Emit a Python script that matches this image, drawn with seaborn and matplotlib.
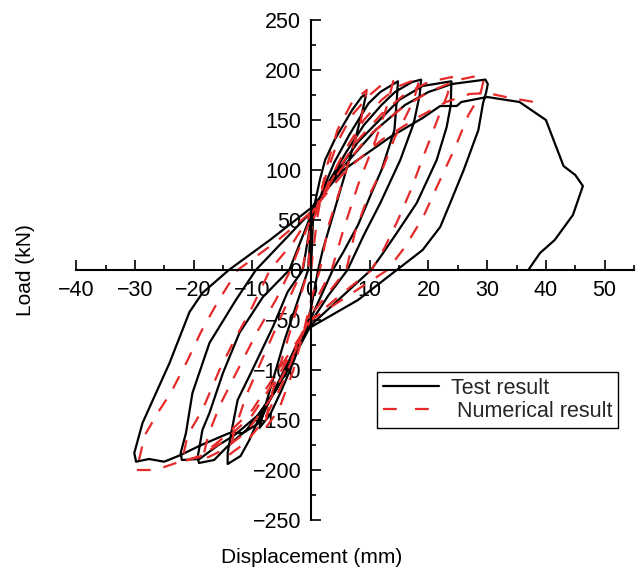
import matplotlib
matplotlib.use("Agg")
import matplotlib.pyplot as plt
from matplotlib.lines import Line2D
from matplotlib.ticker import MultipleLocator
import numpy as np
import pandas as pd
import seaborn as sns

# ---- hysteresis loops: displacement (mm) and load (kN), in loading order ----
# Test result, cycle by cycle
test_c1_disp = [0, 0.2, 0.4, 1.5, 2.4, 4, 5.5, 7, 8.6, 9.4,
                8.8, 7.5, 5.5, 3.5, 2, 1.2,
                0, -1, -3, -5, -7, -8.8,
                -8, -6.5, -4.5, -2.5, -0.5]
test_c1_load = [0, 30, 60, 90, 110, 130, 145, 160, 173, 176,
                160, 130, 90, 50, 20, 0,
                -38, -60, -92, -120, -145, -158,
                -140, -110, -70, -35, 0]

test_c2_disp = [0, 2, 4, 6.5, 9.8, 11.8, 14.6, 14.8,
                14.6, 14.2, 13.5, 12, 10.3, 8, 5.5, 3.7,
                0, -2, -4, -6.5, -9, -10.5, -12, -14.2, -14.2,
                -13.5, -12.5, -10, -6.5, -4, -1.4]
test_c2_load = [45, 80, 108, 135, 166.7, 178, 188, 188.7,
                170, 140, 127, 100, 77, 45, 18, 0,
                -48, -75, -100, -125, -150, -170, -186, -194, -183,
                -160, -130, -100, -57, -22, 0]

test_c3_disp = [0, 3, 6, 9, 12, 14.3, 17.2, 18.75,
                18.5, 17.5, 15.2, 11.8, 9, 6.2,
                3, 0, -3, -6, -9, -11, -13, -14.5, -16.5, -19.1, -19.3,
                -18.5, -17.3, -15, -12.2, -8.2, -3.7]
test_c3_load = [50, 88, 118, 145, 165, 178, 188, 190.4,
                175, 147, 110, 67, 35, 0,
                -25, -52, -88, -120, -145, -160, -170, -178, -190, -193, -187,
                -160, -143, -103, -63, -27, 0]

test_c4_disp = [0, 4, 8, 12, 15, 19, 23.9,
                23.8, 23.1, 21.4, 18, 14.6, 11.8, 10.2,
                5, 0, -3, -6, -9, -13, -16, -19, -22, -22.2,
                -21.3, -20.2, -17.3, -12.8, -9.4]
test_c4_load = [55, 95, 128, 152, 170, 184, 188.7,
                165, 143, 110, 67, 37, 13, 0,
                -28, -55, -88, -120, -145, -165, -176, -189, -190, -183,
                -163, -123, -73, -30, 0]

test_c5_disp = [0, 5, 11, 16, 20, 24, 29.7, 30.1,
                29.8, 29.3, 28.5, 26, 23.7, 22, 19, 14.6,
                8, 0, -1.4, -3.7, -6.5, -8.8, -11.6, -13.9, -18.7, -22.2, -25, -27.6, -29.8, -30.1,
                -28.7, -26.4, -24.1, -20.7, -18.5, -15, -14]
test_c5_load = [58, 100, 140, 165, 178, 186, 190.4, 186,
                177, 167, 140, 100, 67, 43, 20, 0,
                -30, -57, -62, -90, -123, -153, -163, -163, -175, -185, -191.7, -189, -191.7, -183,
                -153, -123, -93, -42, -23, -5, 0]

test_final_disp = [-7, 0, 5.5, 13.5, 19, 22, 24.8, 25.6, 30, 35.5,
                   40, 43, 45, 46.3, 44.6, 41.5, 39, 37]
test_final_load = [30, 62, 100, 133, 152, 164, 164, 168, 173, 168,
                   150, 104, 95, 84, 55, 30, 17, 0]

# Numerical result, cycle by cycle
num_c1_disp = [0, 1, 2.5, 4.5, 7, 9.5,
               8.5, 6, 3, 1.5,
               0, -1, -3, -5.5, -8,
               -7, -5, -2.5, -0.5]
num_c1_load = [0, 50, 100, 140, 168, 180,
               150, 100, 45, 0,
               -30, -55, -100, -140, -160,
               -130, -90, -40, 0]

num_c2_disp = [0, 2, 4.5, 7, 10, 12, 14,
               13, 11, 8, 5.5, 3.5,
               0, -2, -5, -8, -11, -14,
               -13, -11, -8, -5, -1.5]
num_c2_load = [40, 85, 128, 155, 175, 185, 189,
               165, 130, 85, 40, 0,
               -40, -72, -115, -150, -172, -185,
               -160, -125, -85, -45, 0]

num_c3_disp = [0, 3, 6, 9, 12, 15, 18.5,
               17.5, 16, 14.3, 12.3, 9.5, 7.5, 6,
               0, -3, -7, -11, -15, -18.5,
               -17.5, -15.5, -12.5, -9, -6, -3.5]
num_c3_load = [45, 88, 122, 150, 170, 184, 192,
               170, 152, 133, 103, 70, 38, 0,
               -45, -85, -130, -162, -180, -190,
               -165, -135, -100, -60, -30, 0]

num_c4_disp = [0, 4, 8, 12, 16, 20, 24,
               23.2, 21.7, 19.1, 17, 14.8, 12.5, 10.3,
               5, 0, -5, -10, -15, -19, -22,
               -21, -18.5, -15.6, -12.8, -10.5, -7]
num_c4_load = [52, 95, 130, 156, 176, 188, 193,
               175, 153, 113, 80, 50, 22, 0,
               -25, -50, -100, -145, -172, -186, -192,
               -165, -140, -100, -67, -43, 0]

num_c5_disp = [-3, 0, 5, 10, 15, 20, 25, 28.2, 29.5,
               28.8, 26.8, 24.5, 22.2, 19.1, 16, 13,
               6, 0, -5, -10, -15, -19, -22, -25, -27.3, -30,
               -29.3, -28.3, -25.8, -23.9, -21, -18.75, -15.9, -12.5]
num_c5_load = [28, 56, 100, 135, 160, 178, 190, 194, 192,
               175, 155, 122, 93, 53, 23, 0,
               -27, -50, -95, -140, -168, -187, -191, -197, -200, -200,
               -190, -165, -140, -123, -90, -62, -32, 0]

num_final_disp = [-6, 0, 6, 12, 18, 23, 27, 30, 34, 38]
num_final_load = [28, 58, 100, 130, 152, 168, 176, 177, 172, 168]

test_disp = (test_c1_disp + test_c2_disp + test_c3_disp + test_c4_disp
             + test_c5_disp + test_final_disp)
test_load = (test_c1_load + test_c2_load + test_c3_load + test_c4_load
             + test_c5_load + test_final_load)
num_disp = (num_c1_disp + num_c2_disp + num_c3_disp + num_c4_disp
            + num_c5_disp + num_final_disp)
num_load = (num_c1_load + num_c2_load + num_c3_load + num_c4_load
            + num_c5_load + num_final_load)

series_names = ["Test result", "Numerical result"]
x_ticks = list(range(-40, 51, 10))
y_ticks = list(range(-250, 251, 50))

df = pd.concat([
    pd.DataFrame({"Displacement": test_disp, "Load": test_load,
                  "Result": series_names[0]}),
    pd.DataFrame({"Displacement": num_disp, "Load": num_load,
                  "Result": series_names[1]}),
], ignore_index=True)

sns.set_theme(style="white")
plt.rcParams["font.family"] = ["Liberation Sans", "DejaVu Sans"]

RED = "#e62a2a"
DASH = (6.2, 5.8)
LW = 1.6

fig = plt.figure(figsize=(6.4, 5.73), dpi=100)
ax = fig.add_axes([0.119, 0.0925, 0.8716, 0.8726])

sns.lineplot(data=df, x="Displacement", y="Load", hue="Result", style="Result",
             hue_order=series_names, style_order=series_names,
             units="Result", estimator=None, sort=False,
             palette={series_names[0]: "black", series_names[1]: RED},
             dashes={series_names[0]: "", series_names[1]: DASH},
             linewidth=LW, legend=False, ax=ax)

ax.set_xlim(-40, 55)
ax.set_ylim(-250, 250)

# axes crossing at the origin
for side in ("top", "right"):
    ax.spines[side].set_visible(False)
for side in ("left", "bottom"):
    ax.spines[side].set_position(("data", 0))
    ax.spines[side].set_color("black")
    ax.spines[side].set_linewidth(1.5)

ax.set_xticks(x_ticks)
ax.set_yticks(y_ticks)
ax.xaxis.set_minor_locator(MultipleLocator(5))
ax.yaxis.set_minor_locator(MultipleLocator(25))
ax.tick_params(which="both", direction="in", color="black", width=1.2,
               labelsize=15.5, labelcolor="black", pad=7,
               bottom=True, left=True)
ax.tick_params(which="major", length=7)
ax.tick_params(which="minor", length=3.5)

ax.set_xlabel("Displacement (mm)", fontsize=15, color="black")
ax.set_ylabel("Load (kN)", fontsize=15, color="black")
ax.xaxis.set_label_coords(0.423, -0.056)
ax.yaxis.label.set_va("center")
ax.yaxis.set_label_coords(-0.0914, 0.5)

handles = [Line2D([], [], color="black", lw=LW),
           Line2D([], [], color=RED, lw=LW, dashes=(6.2, 8.2))]
leg = ax.legend(handles, ["Test result", " Numerical result"],
                loc="upper left", bbox_to_anchor=(0.5394, 0.296),
                borderaxespad=0, fontsize=15.5, frameon=True, fancybox=False,
                edgecolor="black", framealpha=1, handlelength=2.6,
                handletextpad=0.55, borderpad=0.28, labelspacing=0.08)
leg.get_frame().set_linewidth(1.0)

fig.savefig("out.png", dpi=100)
